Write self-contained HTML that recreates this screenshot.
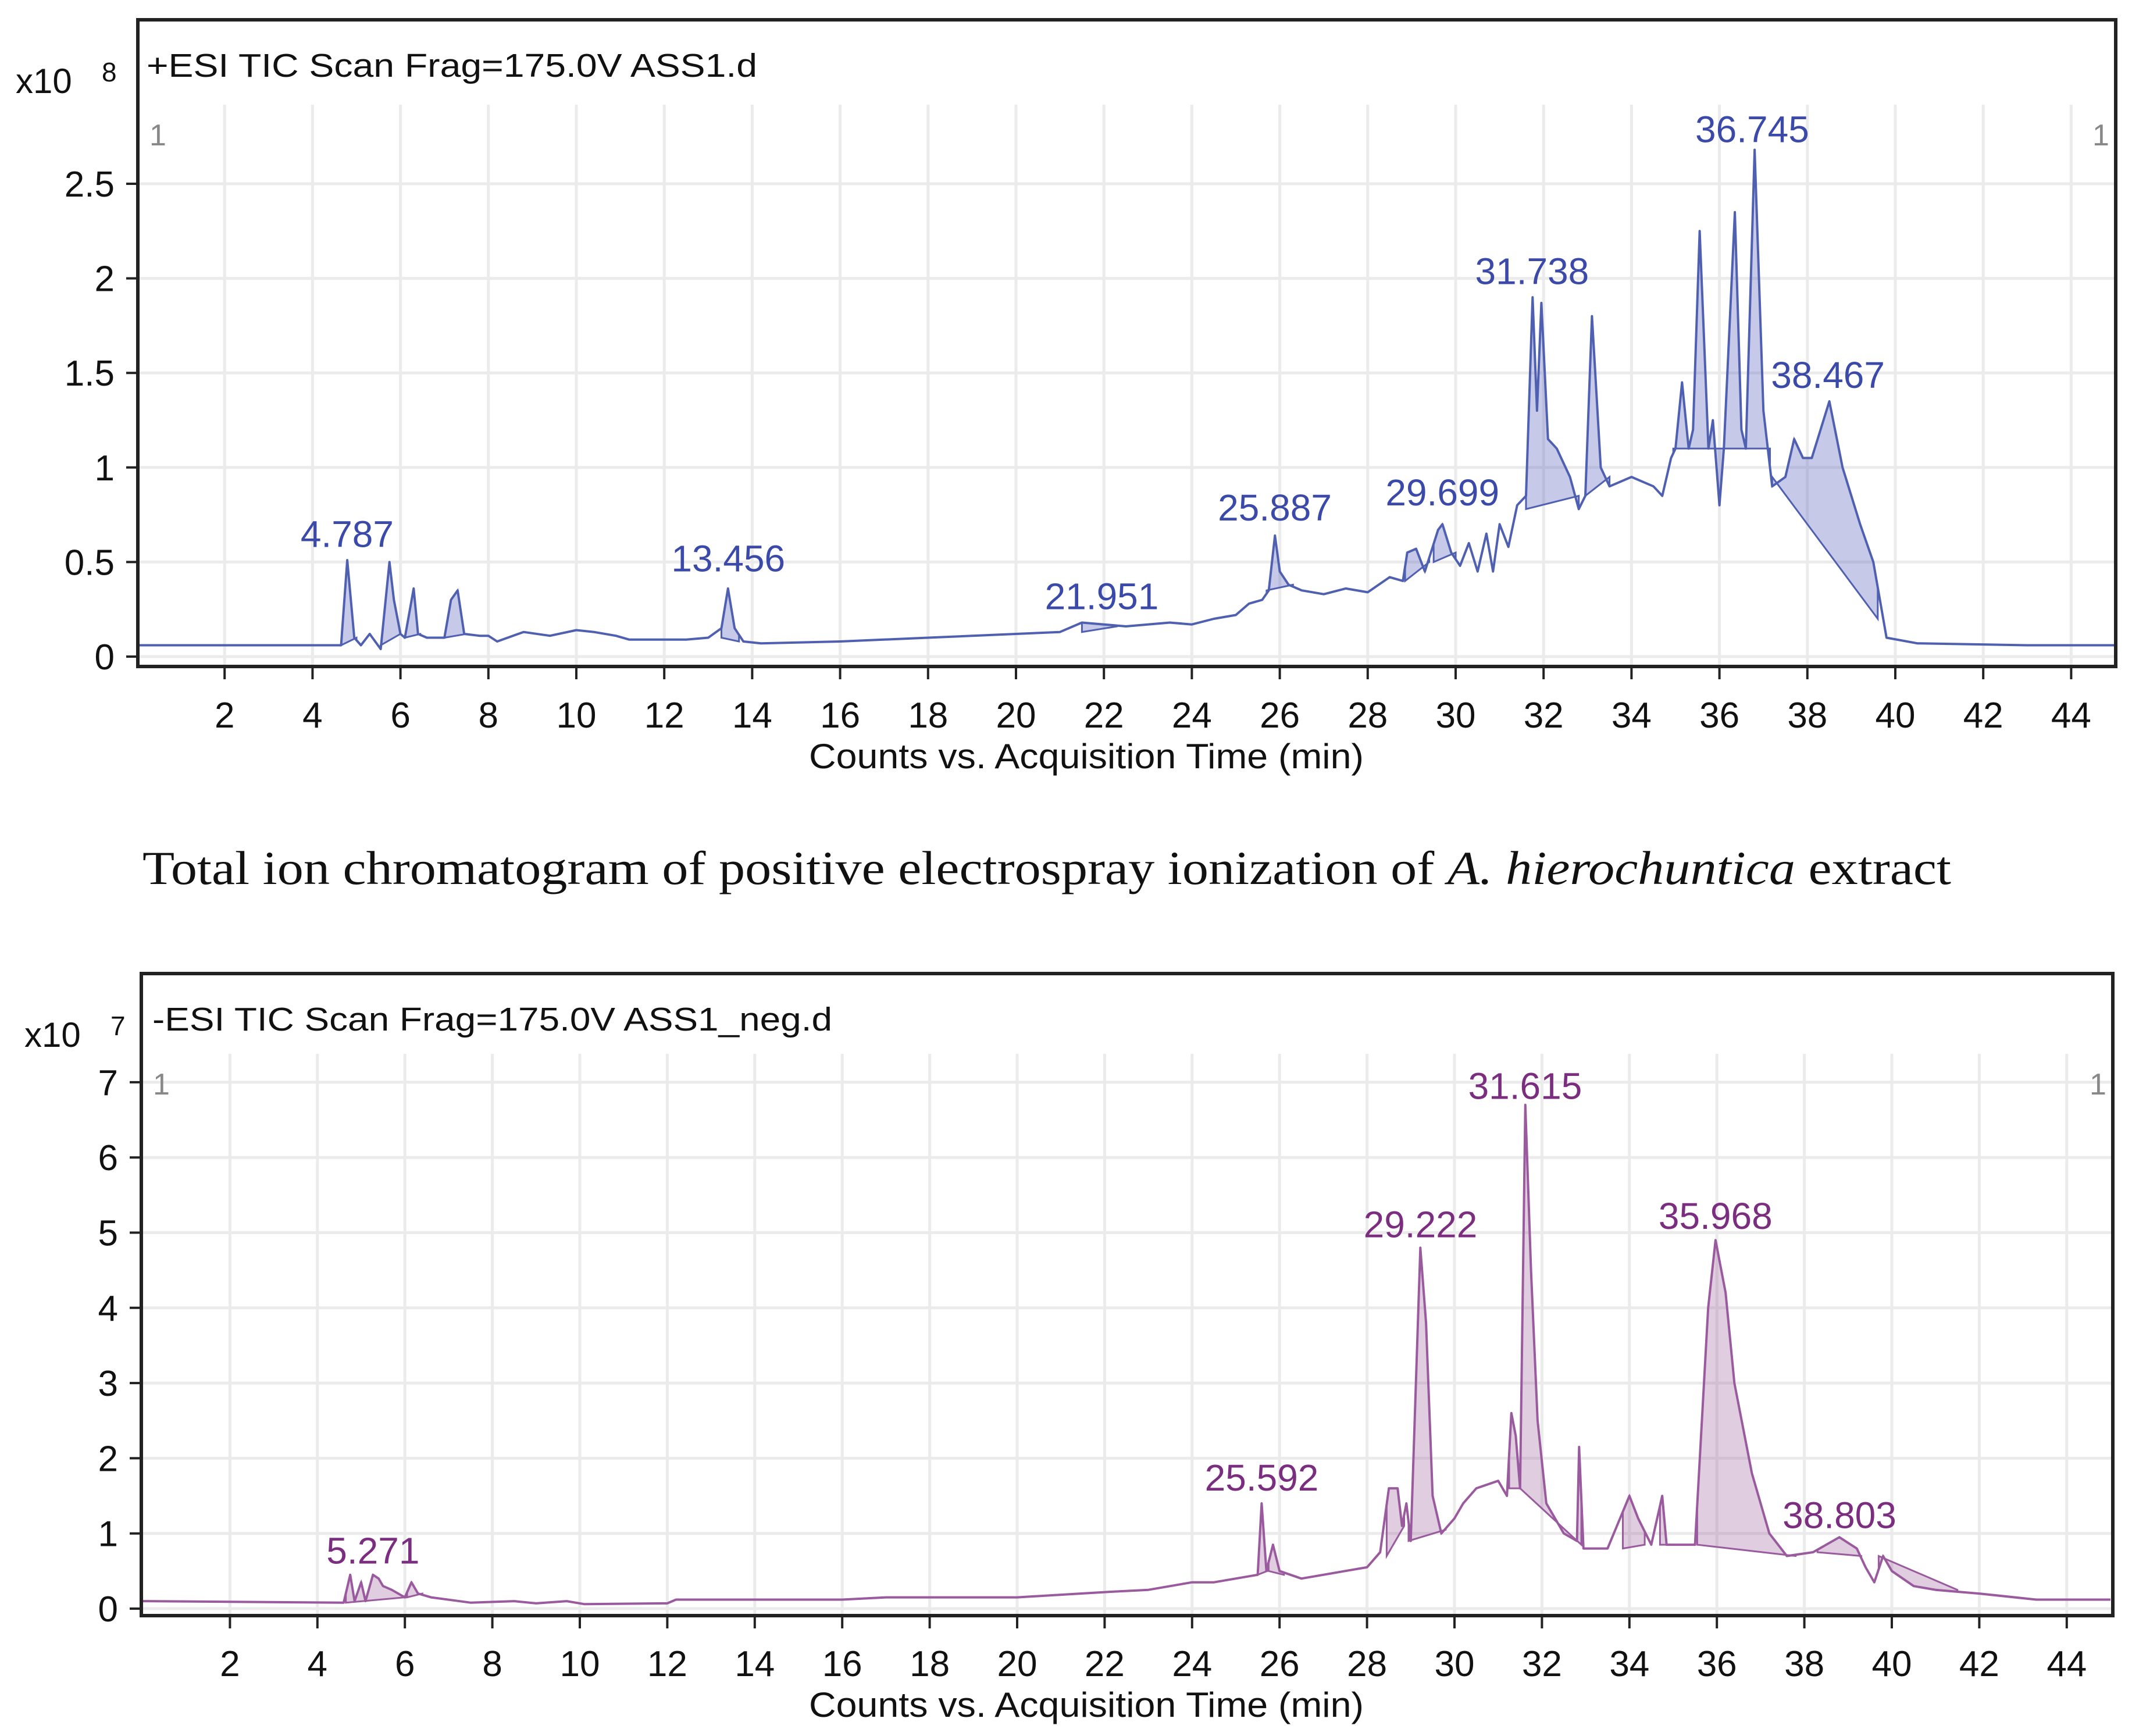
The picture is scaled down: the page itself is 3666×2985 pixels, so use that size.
<!DOCTYPE html>
<html><head><meta charset="utf-8"><style>
html,body{margin:0;padding:0;background:#fff}
svg{display:block}
</style></head><body>
<svg id="chart" width="3666" height="2985" viewBox="0 0 3666 2985" xmlns="http://www.w3.org/2000/svg" font-family="Liberation Sans, Arial, sans-serif">
<text x="245" y="1520" font-size="82" style="font-family:'Liberation Serif',serif" fill="#111" textLength="3110" lengthAdjust="spacingAndGlyphs">Total ion chromatogram of positive electrospray ionization of <tspan font-style="italic">A. hierochuntica</tspan> extract</text>
</svg>
<script>
// ---------- Top (+ESI) data ----------
const posTimes = [0,4.6,4.65,4.79,4.95,5.1,5.3,5.55,5.75,5.85,6.0,6.1,6.3,6.4,6.6,7.0,7.15,7.3,7.45,7.8,8.0,8.2,8.8,9.4,10.0,10.4,10.9,11.2,12.0,12.5,13.0,13.3,13.45,13.6,13.8,14.2,16,18,20,21,21.5,22,22.5,23,23.5,24,24.5,25,25.3,25.6,25.75,25.89,26.0,26.2,26.5,27,27.5,28,28.5,28.8,28.9,29.1,29.3,29.6,29.7,29.9,30.1,30.3,30.5,30.7,30.85,31.0,31.2,31.4,31.6,31.75,31.85,31.95,32.1,32.3,32.6,32.8,32.95,33.1,33.3,33.5,34,34.5,34.7,34.9,35.0,35.15,35.3,35.4,35.55,35.75,35.85,36.0,36.1,36.35,36.5,36.6,36.8,37.0,37.2,37.5,37.7,37.9,38.1,38.5,38.8,39.2,39.5,39.8,40.5,43,45];
const posValues = [0.06,0.06,0.06,0.51,0.1,0.06,0.12,0.04,0.5,0.3,0.12,0.1,0.36,0.12,0.1,0.1,0.3,0.35,0.12,0.11,0.11,0.08,0.13,0.11,0.14,0.13,0.11,0.09,0.09,0.09,0.1,0.15,0.36,0.15,0.08,0.07,0.08,0.1,0.12,0.13,0.18,0.17,0.16,0.17,0.18,0.17,0.2,0.22,0.28,0.3,0.35,0.64,0.45,0.38,0.35,0.33,0.36,0.34,0.42,0.4,0.55,0.57,0.45,0.67,0.7,0.55,0.48,0.6,0.45,0.65,0.45,0.7,0.58,0.8,0.85,1.9,1.3,1.87,1.15,1.1,0.95,0.78,0.85,1.8,1.0,0.9,0.95,0.9,0.85,1.05,1.1,1.45,1.1,1.2,2.25,1.1,1.25,0.8,1.1,2.35,1.2,1.1,2.68,1.3,0.9,0.95,1.15,1.05,1.05,1.35,1.0,0.7,0.5,0.1,0.07,0.06,0.06];
const posRegionStart = [4.65,5.55,6.1,7.0,13.3,21.5,25.7,28.85,29.5,31.6,32.95,34.95,37.2];
const posRegionEnd   = [5.0,6.0,6.45,7.5,13.7,22.3,26.3,29.4,30.0,32.8,33.5,37.15,39.6];
const posRegionBase0 = [0.06,0.06,0.1,0.1,0.1,0.13,0.35,0.4,0.5,0.78,0.85,1.1,0.95];
const posRegionBase1 = [0.1,0.12,0.12,0.12,0.08,0.16,0.38,0.5,0.55,0.85,0.95,1.1,0.2];
const posLabels = ["4.787","13.456","21.951","25.887","29.699","31.738","36.745","38.467"];
const posLabelT = [4.787,13.456,21.951,25.887,29.699,31.738,36.745,38.467];
const posLabelV = [0.58,0.45,0.25,0.72,0.8,1.97,2.72,1.42];
const posYTicks = [0,0.5,1,1.5,2,2.5];
const posYTickLabels = ["0","0.5","1","1.5","2","2.5"];

// ---------- Bottom (-ESI) data ----------
const negTimes = [0,4.6,4.75,4.85,5.0,5.1,5.27,5.4,5.5,5.7,6.0,6.15,6.3,6.6,7.5,8.5,9,9.7,10.1,12,12.2,16,17,20,22,23,24,24.5,25.5,25.59,25.7,25.85,26.0,26.5,27,27.5,28,28.3,28.5,28.7,28.8,28.9,29.0,29.22,29.35,29.5,29.7,30,30.2,30.5,31,31.2,31.3,31.4,31.5,31.62,31.75,31.9,32.1,32.5,32.8,32.85,32.95,33.5,34.0,34.2,34.5,34.75,34.85,35.5,35.8,35.97,36.2,36.4,36.8,37.2,37.6,38.2,38.8,39.2,39.4,39.6,39.8,40.0,40.5,41,42,43.3,45];
const negValues = [0.1,0.08,0.45,0.1,0.35,0.1,0.45,0.4,0.3,0.25,0.15,0.35,0.2,0.15,0.08,0.1,0.07,0.1,0.06,0.07,0.12,0.12,0.15,0.15,0.22,0.25,0.35,0.35,0.45,1.4,0.5,0.85,0.5,0.4,0.45,0.5,0.55,0.75,1.6,1.6,1.1,1.4,0.9,4.8,3.8,1.5,1.0,1.2,1.4,1.6,1.7,1.5,2.6,2.3,1.6,6.7,4.5,2.5,1.4,1.0,0.9,2.15,0.8,0.8,1.5,1.2,0.85,1.5,0.85,0.85,4.0,4.9,4.2,3.0,1.8,1.0,0.7,0.75,0.95,0.8,0.55,0.35,0.7,0.5,0.3,0.25,0.2,0.12,0.12];
const negRegionStart = [4.65,6.05,25.5,25.75,28.45,28.95,31.25,31.5,33.85,34.7,35.55,38.3,39.7];
const negRegionEnd   = [6.0,6.4,25.72,26.1,28.85,29.8,31.5,32.9,34.35,34.9,37.8,39.3,41.5];
const negRegionBase0 = [0.08,0.15,0.45,0.5,0.7,0.9,1.6,1.6,0.8,0.85,0.85,0.75,0.7];
const negRegionBase1 = [0.15,0.2,0.5,0.45,1.1,1.05,1.6,0.85,0.85,0.85,0.7,0.7,0.25];
const negLabels = ["5.271","25.592","29.222","31.615","35.968","38.803"];
const negLabelT = [5.271,25.592,29.222,31.615,35.968,38.803];
const negLabelV = [0.6,1.57,4.94,6.78,5.05,1.07];
const negYTicks = [0,1,2,3,4,5,6,7];
const negYTickLabels = ["0","1","2","3","4","5","6","7"];

const xTicks = [2,4,6,8,10,12,14,16,18,20,22,24,26,28,30,32,34,36,38,40,42,44];
const xTickLabels = ["2","4","6","8","10","12","14","16","18","20","22","24","26","28","30","32","34","36","38","40","42","44"];

const NS = "http://www.w3.org/2000/svg";
const svg = document.getElementById("chart");
function mk(tag, attrs, parent){ const e=document.createElementNS(NS,tag); for(const k in attrs) e.setAttribute(k,attrs[k]); (parent||svg).appendChild(e); return e; }

function interp(ts, vs, t){
  for(let i=1;i<ts.length;i++){ if(t<=ts[i]){ const f=(t-ts[i-1])/(ts[i]-ts[i-1]); return vs[i-1]+f*(vs[i]-vs[i-1]); } }
  return vs[vs.length-1];
}

function drawPanel(p){
  const g = mk("g",{});
  
  
  const X = t => p.x0 + t*p.xs;
  const Y = v => p.y0 - v*p.ys;
  xTicks.forEach(t=>{ const l=mk("line",{x1:X(t),x2:X(t),y1:p.gridTop,y2:p.frameB,stroke:"#ebebeb","stroke-width":5},g);
      });
  p.yTicks.forEach(v=>{ const l=mk("line",{x1:p.frameL,x2:p.frameR,y1:Y(v),y2:Y(v),stroke:"#ebebeb","stroke-width":5},g);
      });
  for(let r=0;r<p.rs.length;r++){
    const t0=p.rs[r], t1=p.re[r];
    let pts=[[t0,interp(p.t,p.v,t0)]];
    for(let i=0;i<p.t.length;i++) if(p.t[i]>t0 && p.t[i]<t1) pts.push([p.t[i],p.v[i]]);
    pts.push([t1,interp(p.t,p.v,t1)]);
    let d="M"+pts.map(q=>X(q[0]).toFixed(1)+","+Y(q[1]).toFixed(1)).join(" L");
    d+=" L"+X(t1).toFixed(1)+","+Y(p.b1[r]).toFixed(1)+" L"+X(t0).toFixed(1)+","+Y(p.b0[r]).toFixed(1)+" Z";
    const a=mk("path",{d:d,fill:p.fill,stroke:p.line,"stroke-width":3},g);
     
  }
  const d="M"+p.t.map((t,i)=>X(t).toFixed(1)+","+Y(p.v[i]).toFixed(1)).join(" L");
  const tr=mk("path",{d:d,fill:"none",stroke:p.line,"stroke-width":4,"stroke-linejoin":"round"},g);
   
  const fr=mk("rect",{x:p.frameL,y:p.frameT,width:p.frameR-p.frameL,height:p.frameB-p.frameT,fill:"none",stroke:"#222","stroke-width":6},g);
   
  const h=mk("text",{x:p.hx,y:p.hy,"font-size":57,fill:"#111",textLength:p.hw,lengthAdjust:"spacingAndGlyphs"},g);
  h.textContent=p.header;  
  const e1=mk("text",{x:p.exX,y:p.exY,"font-size":60,fill:"#111"},g); e1.textContent="x10";
   
  const e2=mk("text",{x:p.exX+148,y:p.exY-20,"font-size":46,fill:"#111"},g); e2.textContent=p.exp;
   
  const g1=mk("text",{x:p.frameL+20,y:p.gridTop+70,"font-size":52,fill:"#888"},g); g1.textContent="1";
   
  const g2=mk("text",{x:p.frameR-40,y:p.gridTop+70,"font-size":52,fill:"#888"},g); g2.textContent="1";
   
  p.yTicks.forEach((v,i)=>{
    const tk=mk("line",{x1:p.frameL-20,x2:p.frameL,y1:Y(v),y2:Y(v),stroke:"#222","stroke-width":4},g);
     
    const tl=mk("text",{x:p.frameL-40,y:Y(v)+22,"font-size":62,fill:"#111","text-anchor":"end"},g);
    tl.textContent=p.yLabels[i];  
  });
  xTicks.forEach((t,i)=>{
    const tk=mk("line",{x1:X(t),x2:X(t),y1:p.frameB,y2:p.frameB+22,stroke:"#222","stroke-width":4},g);
     
    const tl=mk("text",{x:X(t),y:p.xly,"font-size":62,fill:"#111","text-anchor":"middle"},g);
    tl.textContent=xTickLabels[i];  
  });
  const at=mk("text",{x:p.tx,y:p.ty,"font-size":60,fill:"#111","text-anchor":"middle",textLength:954,lengthAdjust:"spacingAndGlyphs"},g);
  at.textContent="Counts vs. Acquisition Time (min)";  
  p.labels.forEach((s,i)=>{
    const pl=mk("text",{x:X(p.lt[i]),y:Y(p.lv[i]),"font-size":64,fill:p.lc,"text-anchor":"middle"},g);
    pl.textContent=s;  
  });
}

drawPanel({name:"positive-esi-chart",x0:235,xs:75.6,y0:1129,ys:325.2,frameL:237,frameT:34,frameR:3638,frameB:1146,gridTop:180,
  t:posTimes,v:posValues,rs:posRegionStart,re:posRegionEnd,b0:posRegionBase0,b1:posRegionBase1,
  fill:"rgba(105,115,195,0.38)",line:"#5060b0",lc:"#3b4aa8",labels:posLabels,lt:posLabelT,lv:posLabelV,
  yTicks:posYTicks,yLabels:posYTickLabels,header:"+ESI TIC Scan Frag=175.0V ASS1.d",hx:252,hy:132,hw:1050,
  exX:27,exY:160,exp:"8",xly:1251,tx:1868,ty:1321});
drawPanel({name:"negative-esi-chart",x0:245,xs:75.2,y0:2766,ys:129.3,frameL:243,frameT:1674,frameR:3633,frameB:2778,gridTop:1812,
  t:negTimes,v:negValues,rs:negRegionStart,re:negRegionEnd,b0:negRegionBase0,b1:negRegionBase1,
  fill:"rgba(160,100,160,0.32)",line:"#9a5a9e",lc:"#7b2d80",labels:negLabels,lt:negLabelT,lv:negLabelV,
  yTicks:negYTicks,yLabels:negYTickLabels,header:"-ESI TIC Scan Frag=175.0V ASS1_neg.d",hx:262,hy:1772,hw:1169,
  exX:42,exY:1800,exp:"7",xly:2882,tx:1868,ty:2952});
</script>
</body></html>
